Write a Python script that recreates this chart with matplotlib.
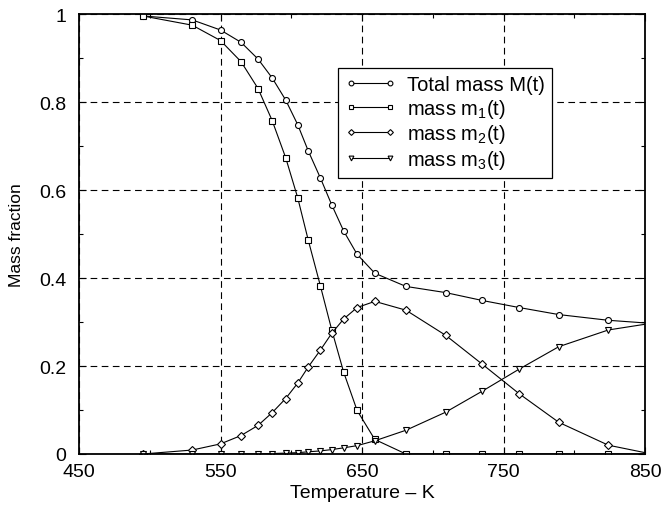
import matplotlib
matplotlib.use("Agg")
import matplotlib.pyplot as plt
from matplotlib.ticker import FixedLocator, FormatStrFormatter

plt.rcParams["font.family"] = ["Liberation Sans", "DejaVu Sans"]
plt.rcParams["mathtext.fontset"] = "custom"
plt.rcParams["mathtext.rm"] = "Liberation Sans"
plt.rcParams["mathtext.default"] = "regular"

# Temperatures of the markers (last point is the curve end, no marker)
temperature = [495, 530, 550, 564.5, 576.5, 586.5, 596, 604.5, 612, 620.5,
               628.5, 637, 646.5, 659, 681, 709, 735, 761, 789, 824, 850]

total_mass = [0.996, 0.987, 0.964, 0.936, 0.898, 0.855, 0.805, 0.749, 0.689,
              0.628, 0.567, 0.507, 0.454, 0.411, 0.381, 0.367, 0.349, 0.333,
              0.317, 0.304, 0.298]
mass_m1 = [0.996, 0.975, 0.940, 0.892, 0.831, 0.758, 0.674, 0.583, 0.486,
           0.383, 0.283, 0.186, 0.099, 0.033, 0.0, 0.0, 0.0, 0.0, 0.0, 0.0,
           0.0]
mass_m2 = [0.0, 0.009, 0.023, 0.042, 0.065, 0.094, 0.126, 0.161, 0.198,
           0.236, 0.274, 0.307, 0.333, 0.347, 0.327, 0.270, 0.204, 0.137,
           0.072, 0.020, 0.003]
mass_m3 = [0.0, 0.0, 0.0, 0.0, 0.0, 0.001, 0.002, 0.003, 0.005, 0.007, 0.010,
           0.014, 0.019, 0.030, 0.054, 0.095, 0.143, 0.193, 0.244, 0.282,
           0.295]

x_ticks = [450, 550, 650, 750, 850]
x_minor = [500, 600, 700, 800]
y_ticks = [0, 0.2, 0.4, 0.6, 0.8, 1]
y_minor = [0.1, 0.3, 0.5, 0.7, 0.9]

series = [
    (total_mass, "o", "Total mass M(t)"),
    (mass_m1, "s", "mass m$_1$(t)"),
    (mass_m2, "D", "mass m$_2$(t)"),
    (mass_m3, "v", "mass m$_3$(t)"),
]

fig = plt.figure(figsize=(6.61, 5.06), dpi=100)
ax = fig.add_axes([0.1195, 0.1008, 0.8565, 0.8692])

for values, marker, label in series:
    size = 4.3 if marker != "D" else 3.7
    ax.plot(temperature, values, color="black", linewidth=0.8,
            marker=marker, markersize=size, markerfacecolor="white",
            markeredgecolor="black", markeredgewidth=0.8,
            markevery=slice(0, len(temperature) - 1), label=label)

ax.set_xlim(450, 850)
ax.set_ylim(0, 1)
ax.xaxis.set_major_locator(FixedLocator(x_ticks))
ax.xaxis.set_minor_locator(FixedLocator(x_minor))
ax.yaxis.set_major_locator(FixedLocator(y_ticks))
ax.yaxis.set_minor_locator(FixedLocator(y_minor))
ax.yaxis.set_major_formatter(FormatStrFormatter("%g"))

ax.tick_params(which="both", direction="in", top=True, right=True,
               labelsize=14, width=0.8)
ax.tick_params(which="major", length=5)
ax.tick_params(which="minor", length=3)
ax.tick_params(axis="x", which="major", pad=6.5)
ax.tick_params(axis="y", which="major", pad=9)

ax.grid(True, which="major", color="black", linestyle=(0, (6, 4)),
        linewidth=0.8)

for side in ax.spines.values():
    side.set_linewidth(1.3)

ax.set_xlabel("Temperature \u2013 K", fontsize=14, labelpad=3)
ax.set_ylabel("Mass fraction", fontsize=12.5)
ax.yaxis.set_label_coords(-0.097, 0.5)

leg = ax.legend(loc="upper left", bbox_to_anchor=(0.458, 0.877),
                borderaxespad=0, fontsize=14.5, handlelength=2.5,
                numpoints=2, fancybox=False, framealpha=1,
                edgecolor="black", borderpad=0.35, labelspacing=0.12,
                handletextpad=0.55, markerscale=0.8)
leg.get_frame().set_linewidth(0.9)

fig.savefig("out.png", dpi=100)
